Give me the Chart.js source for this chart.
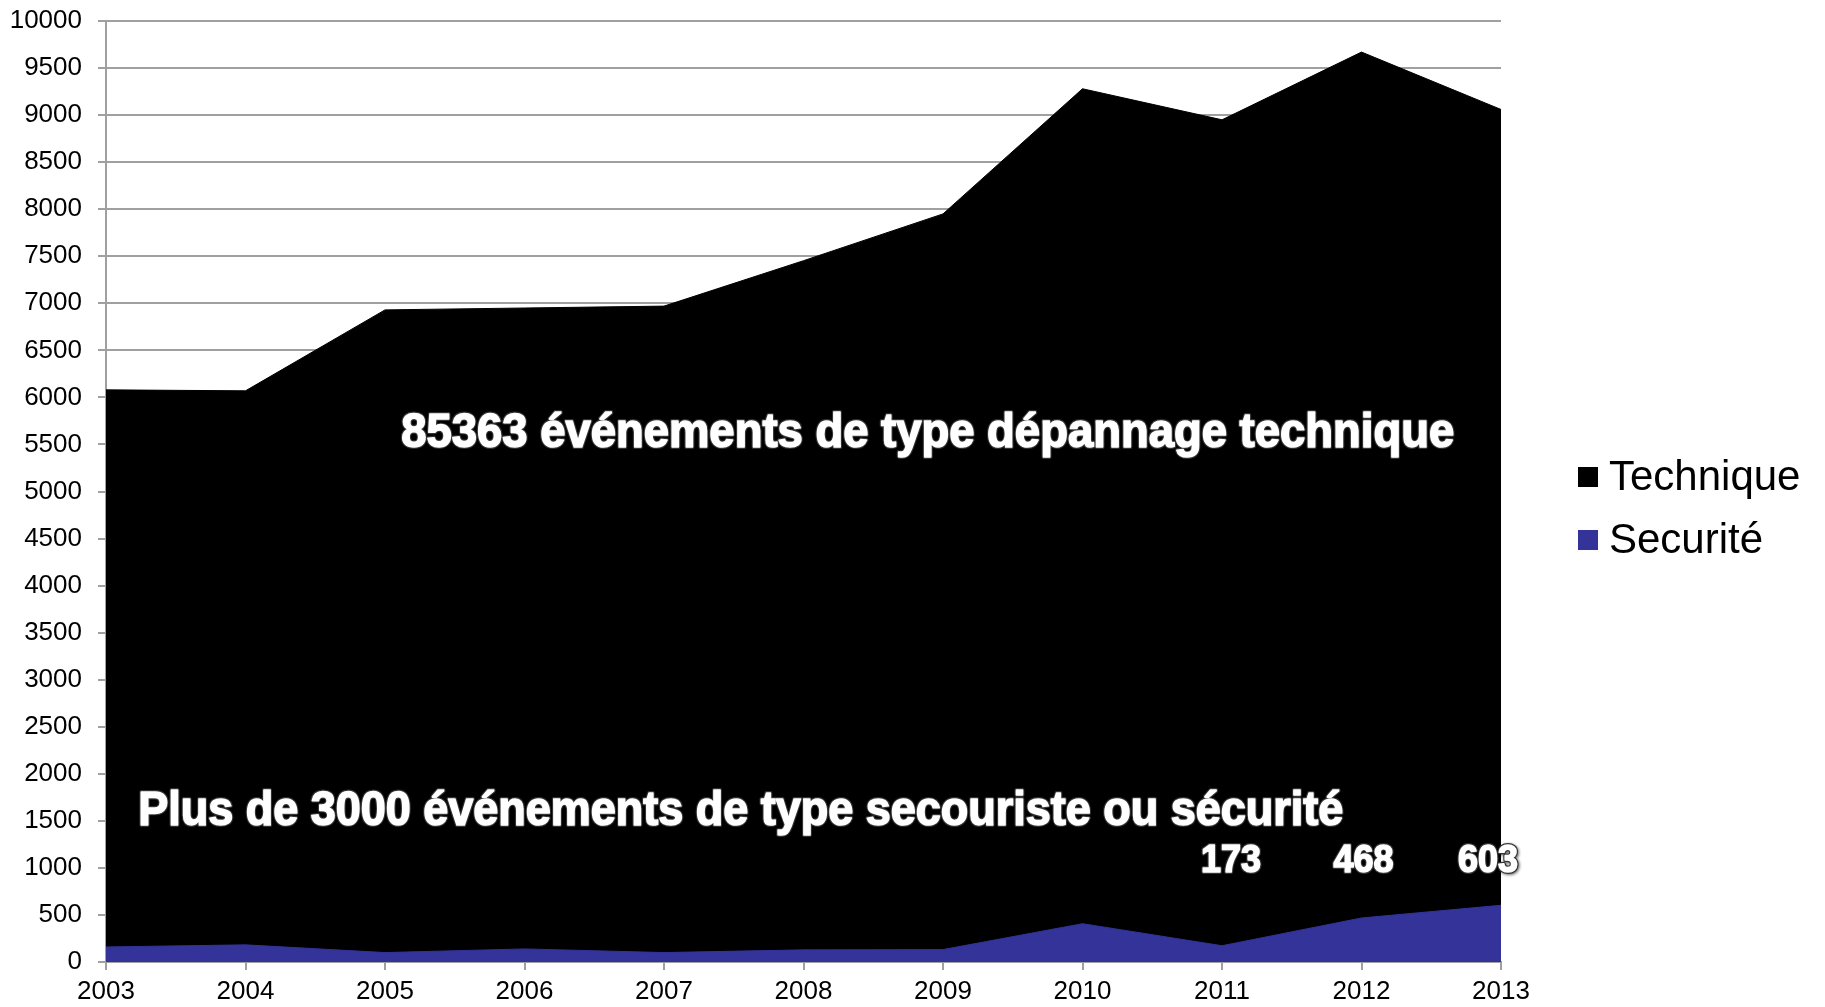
<!DOCTYPE html>
<html>
<head>
<meta charset="utf-8">
<script src="https://cdn.jsdelivr.net/npm/chart.js@4/dist/chart.umd.min.js"></script>
<style>
  html, body { margin: 0; padding: 0; background: #fff; }
  canvas { display: block; }
</style>
</head>
<body>
<canvas id="chart" width="1825" height="1007"></canvas>
<script>
const years = ['2003', '2004', '2005', '2006', '2007', '2008', '2009', '2010', '2011', '2012', '2013'];
const techniqueValues = [6080, 6070, 6930, 6950, 6970, 7453, 7950, 9280, 8950, 9670, 9060];
const securiteValues = [160, 182, 100, 139, 100, 129, 132, 407, 173, 468, 603];
const seriesNames = ['Technique', 'Securité'];
const seriesColors = ['#000000', '#333399'];

// labels shown above the last three years
const labelYears = ['2011', '2012', '2013'];
const labelValues = [173, 468, 603];

const noteTechnique = '85363 événements de type dépannage technique';
const noteSecurite = 'Plus de 3000 événements de type secouriste ou sécurité';

const gridColor = '#a0a0a0';
const tickFont = { family: "'Liberation Sans', Arial, sans-serif", size: 26 };

// white bold text with dark outline, drawn on top of the areas
const annotations = {
  id: 'annotations',
  afterDatasetsDraw(chart) {
    const { ctx } = chart;
    const x = chart.scales.x;
    const y = chart.scales.y;
    const outlined = (text, cx, by, size, maxW) => {
      ctx.save();
      ctx.font = `bold ${size}px 'Liberation Sans', Arial, sans-serif`;
      ctx.textAlign = 'center';
      ctx.textBaseline = 'alphabetic';
      ctx.lineJoin = 'round';
      ctx.shadowColor = 'rgba(0,0,0,0.6)';
      ctx.shadowBlur = 3;
      ctx.shadowOffsetX = 1;
      ctx.shadowOffsetY = 1;
      ctx.lineWidth = 4;
      ctx.strokeStyle = '#333';
      ctx.strokeText(text, cx, by, maxW);
      ctx.shadowColor = 'transparent';
      // thicken the white glyphs a little
      ctx.lineWidth = 1.6;
      ctx.strokeStyle = '#fff';
      ctx.strokeText(text, cx, by, maxW);
      ctx.fillStyle = '#fff';
      ctx.fillText(text, cx, by, maxW);
      ctx.restore();
    };
    outlined(noteTechnique, x.getPixelForValue(5.89), y.getPixelForValue(5473), 48, 1053);
    outlined(noteSecurite, x.getPixelForValue(4.55), y.getPixelForValue(1456), 48, 1205);
    const shifts = [9, 2, -13];
    labelYears.forEach((yr, i) => {
      const px = x.getPixelForValue(years.indexOf(yr)) + shifts[i];
      outlined(String(labelValues[i]), px, y.getPixelForValue(956), 38, 60);
    });
  }
};

// legend on the right
const sideLegend = {
  id: 'sideLegend',
  afterDraw(chart) {
    const { ctx } = chart;
    ctx.save();
    ctx.font = "42px 'Liberation Sans', Arial, sans-serif";
    ctx.textBaseline = 'alphabetic';
    ctx.textAlign = 'left';
    const tops = [467, 530];
    seriesNames.forEach((name, i) => {
      ctx.fillStyle = seriesColors[i];
      ctx.fillRect(1578, tops[i], 20, 20);
      ctx.fillStyle = '#000';
      ctx.fillText(name, 1609, tops[i] + 23);
    });
    ctx.restore();
  }
};

new Chart(document.getElementById('chart'), {
  type: 'line',
  data: {
    labels: years,
    datasets: [
      {
        label: seriesNames[0],
        data: techniqueValues,
        backgroundColor: seriesColors[0],
        borderColor: seriesColors[0],
        borderWidth: 1,
        fill: 'origin',
        pointRadius: 0,
        tension: 0,
        order: 1
      },
      {
        label: seriesNames[1],
        data: securiteValues,
        backgroundColor: seriesColors[1],
        borderColor: seriesColors[1],
        borderWidth: 1,
        fill: 'origin',
        pointRadius: 0,
        tension: 0,
        order: 0
      }
    ]
  },
  options: {
    responsive: false,
    animation: false,
    layout: { padding: { top: 0, right: 324, bottom: 0, left: 0 } },
    plugins: {
      legend: { display: false },
      tooltip: { enabled: false }
    },
    scales: {
      x: {
        offset: false,
        grid: { drawOnChartArea: false, drawTicks: true, tickLength: 8, color: gridColor, lineWidth: 2 },
        border: { color: gridColor, width: 2 },
        ticks: { color: '#000', font: tickFont, padding: 6, maxRotation: 0, autoSkip: false },
        afterFit(scale) { scale.height = 45; }
      },
      y: {
        min: 0,
        max: 10000,
        grid: { color: gridColor, lineWidth: 2, tickLength: 8 },
        border: { color: gridColor, width: 2 },
        ticks: { stepSize: 500, color: '#000', font: tickFont, padding: 16, callback: (v) => String(v) },
        afterFit(scale) {
          scale.width = 106;
          scale.paddingTop = 21;
          scale.paddingBottom = 0;
        }
      }
    }
  },
  plugins: [annotations, sideLegend]
});
</script>
</body>
</html>
